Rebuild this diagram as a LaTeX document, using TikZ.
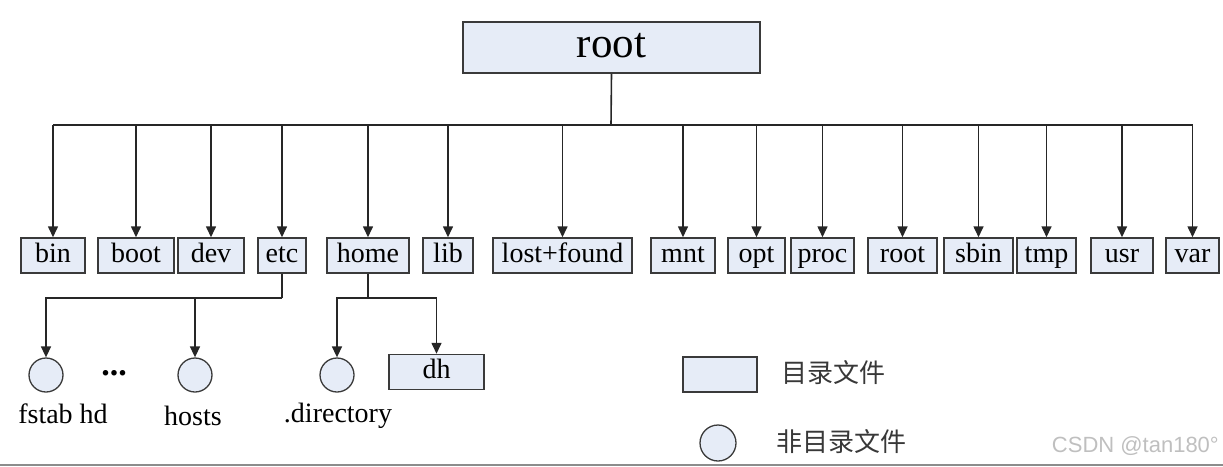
\documentclass[tikz,border=0pt]{standalone}
\usepackage{fontspec}
\setmainfont{Liberation Serif}
\newfontfamily\cjk{Noto Sans CJK SC}
\newfontfamily\wmfont{Liberation Sans}
\usetikzlibrary{arrows.meta,calc}
\definecolor{boxfill}{HTML}{E6ECF7}
\definecolor{boxline}{HTML}{3A3A3A}
\tikzset{
  dirbox/.style={draw=boxline,fill=boxfill,line width=1.5pt,inner sep=0pt,minimum height=35pt,text height=19.5pt,text depth=6pt,font=\fontsize{28}{30}\selectfont},
  filecirc/.style={draw=boxline,fill=boxfill,line width=1.3pt,circle,inner sep=0pt,minimum size=34pt},
  conn/.style={draw=black!85,line width=1.6pt},
  arr/.style={conn,-{Triangle[length=11pt,width=10pt]}},
  lbl/.style={font=\fontsize{28}{30}\selectfont,inner sep=0pt},
  cjklbl/.style={font=\cjk\fontsize{26}{28}\selectfont,text=black!78,inner sep=0pt,anchor=west}
}
\begin{document}
\begin{tikzpicture}[x=1pt,y=-1pt]
\useasboundingbox (0,0) rectangle (1223,466);
% root
\node[dirbox,minimum width=297pt,minimum height=51pt,text height=29pt,text depth=9pt,font=\fontsize{43}{45}\selectfont] (top) at (611.5,47.5) {root};
\coordinate (bus) at (611,125);
% first level
\node[dirbox,minimum width=64pt] (bin) at (53,255.5) {bin};
\node[dirbox,minimum width=76pt] (boot) at (136,255.5) {boot};
\node[dirbox,minimum width=66pt] (dev) at (211,255.5) {dev};
\node[dirbox,minimum width=48pt] (etc) at (282,255.5) {etc};
\node[dirbox,minimum width=82pt] (home) at (368,255.5) {home};
\node[dirbox,minimum width=50pt] (lib) at (448,255.5) {lib};
\node[dirbox,minimum width=139pt] (lost) at (562.5,255.5) {lost+found};
\node[dirbox,minimum width=64pt] (mnt) at (683,255.5) {mnt};
\node[dirbox,minimum width=57pt] (opt) at (756.5,255.5) {opt};
\node[dirbox,minimum width=63pt] (proc) at (822.5,255.5) {proc};
\node[dirbox,minimum width=69pt] (root2) at (902.5,255.5) {root};
\node[dirbox,minimum width=69pt] (sbin) at (978.5,255.5) {sbin};
\node[dirbox,minimum width=59pt] (tmp) at (1046.5,255.5) {tmp};
\node[dirbox,minimum width=62pt] (usr) at (1122,255.5) {usr};
\node[dirbox,minimum width=53pt] (var) at (1192.5,255.5) {var};
% root stem and bus
\draw[conn] (top.south) -- (bus);
\draw[conn,line width=2pt] (bus -| bin) -- (bus -| var);
\foreach \n in {bin,boot,dev,etc,home,lib,lost,mnt,opt,proc,root2,sbin,tmp,usr,var}{
  \draw[arr] (bus -| \n.north) -- (\n.north);
}
% second level
\node[filecirc] (c1) at (46,375) {};
\node[filecirc] (c2) at (195,375) {};
\node[filecirc] (c3) at (337,375) {};
\node[dirbox,minimum width=95pt] (dh) at (436.5,372) {dh};
\node[lbl,font=\bfseries\fontsize{34}{36}\selectfont] (dots) at (114,373) {...};
\node[lbl] (l1) at (63,414) {fstab hd};
\node[lbl] (l2) at (193,416) {hosts};
\node[lbl] (l3) at (338,416) {.directory};
\coordinate (j1) at (282,298);
\coordinate (j2) at (368,298);
\draw[conn] (etc.south) -- (j1);
\draw[arr] (j1) -| (c1.north);
\draw[arr] (j1 -| c2) -- (c2.north);
\draw[conn] (home.south) -- (j2);
\draw[arr] (j2) -| (c3.north);
\draw[arr] (j2) -| (dh.north);
% legend
\node[dirbox,minimum width=74pt] (legbox) at (720,374.5) {};
\node[cjklbl] (legt1) at (781,373) {目录文件};
\node[filecirc,minimum size=36pt] (legcirc) at (718,443) {};
\node[cjklbl] (legt2) at (776,442) {非目录文件};
% watermark
\node[font=\wmfont\fontsize{22}{24}\selectfont,text=black!25,anchor=east,inner sep=0pt] (wm) at (1219,446) {CSDN @tan180°};
% bottom border
\draw[draw=black!45,line width=1.5pt] (0,465) -- (1223,465);
\end{tikzpicture}
\end{document}
